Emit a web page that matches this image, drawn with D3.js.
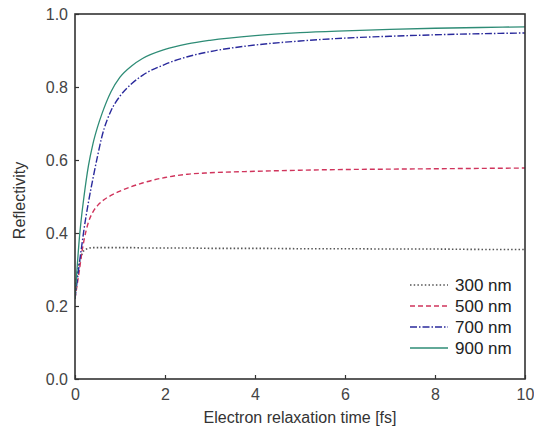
<!doctype html>
<html>
<head>
    <meta charset="utf-8">
    <title>Reflectivity vs electron relaxation time</title>
    <style>
        body {
            margin: 0;
            padding: 0;
            background: #fff;
        }
        text {
            font-family: "Liberation Sans", Arial, sans-serif;
        }
    </style>
</head>
<body>
    <svg id="chart" width="534" height="430"></svg>

    <script src="https://d3js.org/d3.v7.min.js"></script>
    <script>
        // relaxation time samples [fs]
        var times = [0, 0.05, 0.1, 0.15, 0.2, 0.3, 0.4, 0.5, 0.6, 0.8, 1.0, 1.25, 1.5, 2, 2.5, 3, 4, 5, 6, 7, 8, 9, 10];

        var r300 = [0.24, 0.29, 0.32, 0.34, 0.352, 0.358, 0.36, 0.36, 0.36, 0.36, 0.36, 0.36, 0.359, 0.359, 0.359, 0.358, 0.358, 0.357, 0.357, 0.356, 0.356, 0.355, 0.355];
        var r500 = [0.22, 0.26, 0.30, 0.345, 0.38, 0.43, 0.458, 0.475, 0.487, 0.503, 0.515, 0.527, 0.537, 0.552, 0.561, 0.565, 0.569, 0.572, 0.574, 0.575, 0.576, 0.577, 0.578];
        var r700 = [0.22, 0.27, 0.32, 0.365, 0.41, 0.485, 0.55, 0.61, 0.665, 0.735, 0.775, 0.808, 0.832, 0.862, 0.883, 0.897, 0.915, 0.926, 0.934, 0.939, 0.943, 0.946, 0.948];
        var r900 = [0.22, 0.31, 0.39, 0.45, 0.50, 0.585, 0.645, 0.69, 0.727, 0.787, 0.827, 0.857, 0.878, 0.903, 0.918, 0.928, 0.941, 0.949, 0.954, 0.958, 0.961, 0.963, 0.965];

        var seriesNames = ["300 nm", "500 nm", "700 nm", "900 nm"];
        var xTicks = [0, 2, 4, 6, 8, 10];
        var yTicks = [0.0, 0.2, 0.4, 0.6, 0.8, 1.0];

        var styles = [
            {color: "#555", dash: "1.5,2.2", width: 1.6},
            {color: "#d0345c", dash: "5,3", width: 1.4},
            {color: "#2a2a9c", dash: "7,2,1.5,2", width: 1.4},
            {color: "#2e8c76", dash: null, width: 1.3}
        ];

        var margin = {top: 14, right: 9, bottom: 51, left: 75},
            width = 534 - margin.left - margin.right,
            height = 430 - margin.top - margin.bottom;

        var svg = d3.select("#chart")
            .append("g")
            .attr("transform", "translate(" + margin.left + "," + margin.top + ")");

        var x = d3.scaleLinear().domain([0, 10]).range([0, width]);
        var y = d3.scaleLinear().domain([0, 1]).range([height, 0]);

        var allSeries = [r300, r500, r700, r900].map(function(vals, i) {
            return {
                name: seriesNames[i],
                style: styles[i],
                points: times.map(function(t, j) { return [t, vals[j]]; })
            };
        });

        var line = d3.line()
            .x(function(d) { return x(d[0]); })
            .y(function(d) { return y(d[1]); })
            .curve(d3.curveMonotoneX);

        svg.append("clipPath").attr("id", "plotClip")
            .append("rect").attr("width", width).attr("height", height);

        svg.append("g")
            .attr("clip-path", "url(#plotClip)")
            .selectAll("path")
            .data(allSeries)
            .enter().append("path")
            .attr("d", function(d) { return line(d.points); })
            .style("fill", "none")
            .style("stroke", function(d) { return d.style.color; })
            .style("stroke-width", function(d) { return d.style.width; })
            .style("stroke-dasharray", function(d) { return d.style.dash; });

        // axes with inward ticks
        var xAxis = svg.append("g")
            .attr("transform", "translate(0," + height + ")")
            .call(d3.axisBottom(x).tickValues(xTicks).tickSize(-4).tickPadding(10).tickFormat(d3.format("d")));

        var yAxis = svg.append("g")
            .call(d3.axisLeft(y).tickValues(yTicks).tickSize(-4).tickPadding(7).tickFormat(d3.format(".1f")));

        [xAxis, yAxis].forEach(function(ax) {
            ax.select(".domain").remove();
            ax.selectAll(".tick line").style("stroke", "#333").style("stroke-width", 1.2);
            ax.selectAll(".tick text")
                .style("font-size", "16px")
                .style("fill", "#444")
                .style("font-family", "'Liberation Sans', Arial, sans-serif");
        });

        // frame
        svg.append("rect")
            .attr("width", width)
            .attr("height", height)
            .style("fill", "none")
            .style("stroke", "#333")
            .style("stroke-width", 1.6);

        svg.append("text")
            .attr("x", width / 2)
            .attr("y", height + 44)
            .attr("text-anchor", "middle")
            .style("font-size", "16px")
            .style("fill", "#333")
            .text("Electron relaxation time [fs]");

        svg.append("text")
            .attr("transform", "rotate(-90)")
            .attr("x", -(height / 2) - 4)
            .attr("y", -50)
            .attr("text-anchor", "middle")
            .style("font-size", "16px")
            .style("fill", "#333")
            .text("Reflectivity");

        // legend
        var legend = svg.append("g")
            .attr("transform", "translate(" + (width - 115) + "," + (height - 94) + ")");

        var item = legend.selectAll(".item")
            .data(allSeries)
            .enter().append("g")
            .attr("class", "item")
            .attr("transform", function(d, i) { return "translate(0," + (i * 21) + ")"; });

        item.append("line")
            .attr("x1", 0).attr("x2", 38)
            .attr("y1", 0).attr("y2", 0)
            .style("stroke", function(d) { return d.style.color; })
            .style("stroke-width", function(d) { return d.style.width; })
            .style("stroke-dasharray", function(d) { return d.style.dash; });

        item.append("text")
            .attr("x", 45)
            .attr("y", 0)
            .attr("dy", "0.35em")
            .style("font-size", "17px")
            .style("fill", "#222")
            .text(function(d) { return d.name; });
    </script>
</body>
</html>
